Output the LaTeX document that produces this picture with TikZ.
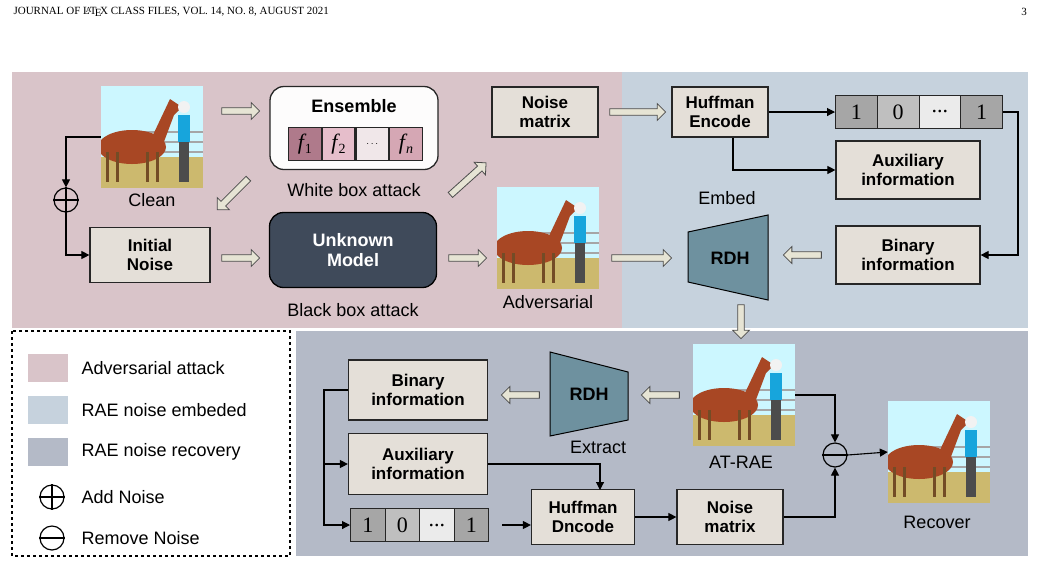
\documentclass[tikz,border=0pt]{standalone}
\usepackage{fontspec}
\setmainfont{Liberation Sans}
\newfontfamily\seriff{Liberation Serif}
\usetikzlibrary{shapes.arrows,shapes.geometric,arrows.meta}
\newcommand\mydots{...}
\definecolor{pinkbg}{HTML}{D9C4C9}
\definecolor{bluebg}{HTML}{C6D2DD}
\definecolor{graybg}{HTML}{B4BAC7}
\definecolor{boxf}{HTML}{E4DFD8}
\definecolor{dark}{HTML}{3F4A5A}
\definecolor{rdh}{HTML}{6E919F}
\definecolor{arrf}{HTML}{E6E4D4}
\tikzset{
 box/.style={draw=black!85,line width=1.2pt,fill=boxf,font=\bfseries\fontsize{17}{19}\selectfont,align=center},
 lbl/.style={font=\fontsize{18}{20}\selectfont},
 fat/.style={single arrow,draw=black!70,fill=arrf,line width=0.8pt,minimum height=38pt,minimum width=17pt,single arrow head extend=3pt,inner sep=1.5pt},
 con/.style={line width=1.1pt,-{Triangle[length=8pt,width=8pt]}},
 lin/.style={line width=1.1pt},
 cell/.style={draw=black!85,line width=1.2pt,minimum width=32.5pt,minimum height=33pt,inner sep=0pt,anchor=west},
 photo/.style={minimum width=102pt,minimum height=102pt,inner sep=0pt,path picture={
  \begin{scope}[shift={(path picture bounding box.center)}]
   \fill[blue!15!cyan!20!white] (-51,-51) rectangle (51,51);
   \fill[olive!50!brown!60] (-51,20) rectangle (51,51);
   \foreach \yy in {-5,5,15}{\draw[gray!70,line width=1.5pt] (-10,\yy) -- (51,\yy);}
   \fill[brown!70!red!80!black] (-20,10) ellipse (34 and 17);
   \fill[brown!70!red!80!black] (0,0) -- (18,-38) -- (30,-30) -- (22,-22) -- (10,10) -- cycle;
   \foreach \xx in {-45,-35,-5,5}{\draw[brown!60!black,line width=3pt] (\xx,15) -- (\xx,45);}
   \fill[cyan!80!teal] (26,-22) rectangle (38,5);
   \fill[black!70] (27,5) rectangle (37,45);
   \fill[white!90!gray] (32,-30) circle (6);
  \end{scope}}},
 pm/.style={circle,draw,line width=1.2pt,minimum size=24pt,inner sep=0pt}
}
\begin{document}
\begin{tikzpicture}[x=1pt,y=-1pt]
\useasboundingbox (0,0) rectangle (1041,566);
\fill[white] (0,0) rectangle (1041,566);
\node[anchor=west,font=\seriff\fontsize{11}{13}\selectfont] (hdr) at (10,12) {JOURNAL OF \LaTeX\ CLASS FILES, VOL. 14, NO. 8, AUGUST 2021};
\node[font=\seriff\fontsize{11}{13}\selectfont] (pg) at (1024,12) {3};
% panels
\fill[pinkbg] (12,72) rectangle (622,328);
\fill[bluebg] (622,72) rectangle (1028,328);
\fill[graybg] (296,331) rectangle (1028,556);
\draw[dashed,line width=1.3pt] (12,331) rectangle (290,556);
% legend
\fill[pinkbg] (28,354) rectangle (68,382);
\fill[bluebg] (28,396) rectangle (68,424);
\fill[graybg] (28,438) rectangle (68,466);
\node[lbl,anchor=west] (l1) at (78,368) {Adversarial attack};
\node[lbl,anchor=west] (l2) at (78,410) {RAE noise embeded};
\node[lbl,anchor=west] (l3) at (78,452) {RAE noise recovery};
\node[pm] (lp) at (52,497) {}; \draw[line width=1.2pt] (lp.north)--(lp.south) (lp.west)--(lp.east);
\node[pm] (lm) at (52,538) {}; \draw[line width=1.2pt] (lm.west)--(lm.east);
\node[lbl,anchor=west] (l4) at (78,497) {Add Noise};
\node[lbl,anchor=west] (l5) at (78,538) {Remove Noise};
% top-left
\node[photo] (clean) at (152,137) {};
\node[lbl] (cleanl) at (152,200) {Clean};
\node[draw=black!85,line width=1.3pt,fill=white!92!boxf,rounded corners=14pt,minimum width=168pt,minimum height=83pt] (ens) at (354,128) {};
\node[font=\bfseries\fontsize{18}{20}\selectfont] (enst) at (354,106) {Ensemble};
\node[cell,fill=pinkbg!60!purple!60!gray] (f1) at (288,144) {\seriff\itshape\fontsize{22}{22}\selectfont f\kern1pt\raisebox{-4pt}{\upshape\fontsize{14}{14}\selectfont 1}};
\node[cell,fill=pinkbg!70!purple!55,anchor=west] (f2) at (f1.east) {\seriff\itshape\fontsize{22}{22}\selectfont f\kern1pt\raisebox{-4pt}{\upshape\fontsize{14}{14}\selectfont 2}};
\node[cell,fill=pinkbg!40!white,anchor=west] (f3) at (f2.east) {\seriff$\cdots$};
\node[cell,fill=pinkbg!85!purple,anchor=west] (f4) at (f3.east) {\seriff\itshape\fontsize{22}{22}\selectfont f\kern1pt\raisebox{-4pt}{\fontsize{14}{14}\selectfont n}};
\node[lbl] (wba) at (354,190) {White box attack};
\node[box,minimum width=120pt,minimum height=55pt] (init) at (150,255) {Initial\\Noise};
\node[draw=black,line width=1.3pt,fill=dark,text=white,rounded corners=14pt,minimum width=167pt,minimum height=75pt,font=\bfseries\fontsize{18}{20}\selectfont,align=center] (unk) at (353,250) {Unknown\\Model};
\node[lbl] (bba) at (353,310) {Black box attack};
\node[pm] (add) at (66,200) {}; \draw[line width=1.2pt] (add.north)--(add.south) (add.west)--(add.east);
\draw[con] (clean.west) -- (66,137) -- (add.north);
\draw[con] (add.south) -- (66,255) -- (init.west);
\node[fat] (a1) at (239,111) {};
\node[fat] (a2) at (239,258) {};
\node[fat] (a3) at (466,258) {};
\node[fat,rotate=-135,minimum height=44pt] (a4) at (234,193) {};
\node[fat,rotate=42,minimum height=48pt] (a5) at (467,180) {};
\node[box,minimum width=106pt,minimum height=50pt] (nm1) at (545,112) {Noise\\matrix};
\node[photo] (adv) at (548,238) {};
\node[lbl] (advl) at (548,302) {Adversarial};
% embed
\node[fat,minimum height=56pt] (a6) at (636,112) {};
\node[fat,minimum height=60pt] (a7) at (640,258) {};
\node[box,minimum width=96pt,minimum height=50pt] (huf1) at (720,112) {Huffman\\Encode};
\foreach \c/\t/\n [count=\i] in {black!35/1/b1,black!25/0/b2,black!8/\mydots/b3,black!35/1/b4}{
 \node[cell,fill=\c,minimum width=41.75pt,font=\seriff\fontsize{22}{22}\selectfont] (\n) at ({835+(\i-1)*41.75},112) {\t};}
\draw[con] (huf1.east) -- (b1.west);
\node[box,minimum width=144pt,minimum height=58pt] (aux1) at (908,170) {Auxiliary\\information};
\node[box,minimum width=144pt,minimum height=58pt] (bin1) at (908,255) {Binary\\information};
\draw[con] (huf1.south -| 733,0) -- (733,170) -- (aux1.west);
\draw[con] (b4.east) -- (1018,112) -- (1018,255) -- (bin1.east);
\draw[line width=1pt,fill=rdh] (688,232) coordinate (r1) -- (768,215) -- (768,300) -- (688,282) -- cycle;
\node[font=\bfseries\fontsize{18}{20}\selectfont] (rdh1) at (730,258) {RDH};
\node[lbl] (emb) at (727,198) {Embed};
\node[fat,rotate=180] (a8) at (804,255) {};
\node[fat,rotate=-90,minimum height=34pt] (a9) at (741,320) {};
% recovery
\node[photo] (at) at (744,395) {};
\node[lbl] (atl) at (741,462) {AT-RAE};
\draw[line width=1pt,fill=rdh] (550,352) -- (628,372) -- (628,420) -- (550,436) -- cycle;
\node[font=\bfseries\fontsize{18}{20}\selectfont] (rdh2) at (589,394) {RDH};
\node[lbl] (ext) at (598,447) {Extract};
\node[fat,rotate=180] (a10) at (662,395) {};
\node[fat,rotate=180] (a11) at (522,395) {};
\node[box,minimum width=139pt,minimum height=60pt] (bin2) at (418,390) {Binary\\information};
\node[box,minimum width=139pt,minimum height=61pt] (aux2) at (418,464) {Auxiliary\\information};
\foreach \c/\t/\n [count=\i] in {black!35/1/c1,black!25/0/c2,black!8/\mydots/c3,black!35/1/c4}{
 \node[cell,fill=\c,minimum width=34.5pt,font=\seriff\fontsize{22}{22}\selectfont] (\n) at ({350+(\i-1)*34.5},525) {\t};}
\node[box,minimum width=103pt,minimum height=55pt] (huf2) at (583,517) {Huffman\\Dncode};
\node[box,minimum width=106pt,minimum height=55pt] (nm2) at (730,517) {Noise\\matrix};
\node[pm] (rem) at (835,455) {}; \draw[line width=1.2pt] (rem.west)--(rem.east);
\node[photo] (rec) at (939,452) {};
\node[lbl] (recl) at (937,522) {Recover};
\draw[lin] (bin2.west) -- (324,390) -- (324,464);
\draw[con] (324,464) -- (aux2.west);
\draw[con] (324,464) -- (324,525) -- (c1.west);
\draw[con] (aux2.east) -- (600,464) -- (600,490);
\draw[con] (502,525) -- (huf2.west |- 0,525);
\draw[con] (huf2.east) -- (nm2.west);
\draw[con] (nm2.east) -- (835,517) -- (rem.south);
\draw[con] (at.east) -- (835,395) -- (rem.north);
\draw[con] (rem.east) -- (rec.west);
\end{tikzpicture}
\end{document}
